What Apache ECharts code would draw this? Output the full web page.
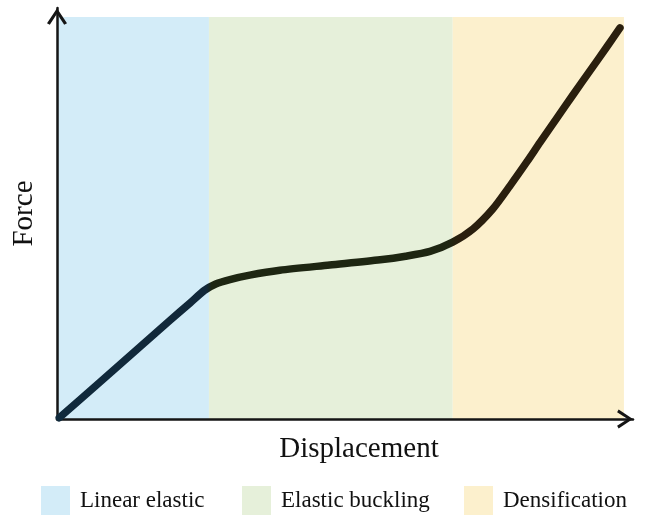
<!DOCTYPE html>
<html>
<head>
<meta charset="utf-8">
<script src="https://cdn.jsdelivr.net/npm/echarts@6/dist/echarts.min.js"></script>
<style>
html,body{margin:0;padding:0;background:#fff;}
#chart{width:648px;height:515px;}
</style>
</head>
<body>
<div id="chart"></div>
<script>
// Conceptual force–displacement curve (unitless, 0–100 scale)
const regionNames = ['Linear elastic', 'Elastic buckling', 'Densification'];
const regionBounds = [0, 26.8, 69.8, 100];
const regionColors = ['#d3ecf8', '#e6f0da', '#fcf0cd'];

const displacement = [0.4, 7.6, 14.6, 19.9, 23.5, 26.0, 28.0, 30.5, 34.0, 39.3, 48.1, 57.0, 61.5, 65.8, 69.8,
  73.4, 76.9, 79.9, 82.9, 85.2, 88.2, 91.0, 94.0, 97.0, 99.3];
const force = [0.3, 9.2, 17.9, 24.5, 28.9, 32.0, 33.6, 34.7, 35.8, 37.0, 38.3, 39.6, 40.5, 41.7, 44.0,
  47.3, 52.3, 58.0, 64.0, 68.8, 74.9, 80.6, 86.6, 92.6, 97.3];

const xTitle = 'Displacement';
const yTitle = 'Force';

const chart = echarts.init(document.getElementById('chart'), null, {renderer: 'canvas'});
const serif = 'Liberation Serif, Times New Roman, serif';
const arrowPath = 'path://M0,15 L10,0 L20,15 L17.2,16.6 L10,5.5 L2.8,16.6 Z';

const regionSeries = regionNames.map((n, i) => ({
  name: n,
  type: 'bar',
  data: [],
  itemStyle: {color: regionColors[i]},
  markArea: {
    silent: true,
    itemStyle: {color: regionColors[i], opacity: 1},
    data: [[{xAxis: regionBounds[i], yAxis: 0}, {xAxis: regionBounds[i + 1], yAxis: 100}]]
  },
  z: 1
}));

const curve = displacement.map((x, i) => [x, force[i]]);

const legendLefts = [41, 242, 464];
const legends = regionNames.map((n, i) => ({
  data: [n],
  left: legendLefts[i],
  top: 486,
  padding: 0,
  icon: 'rect',
  itemWidth: 29,
  itemHeight: 29,
  selectedMode: false,
  textStyle: {fontFamily: serif, fontSize: 23, color: '#111', padding: [0, 0, 0, 5]}
}));

chart.setOption({
  animation: false,
  grid: {left: 57, top: 8, width: 576, height: 411, containLabel: false},
  legend: legends,
  xAxis: {
    type: 'value', min: 0, max: 101.6, z: 3,
    name: xTitle, nameLocation: 'middle', nameGap: 16,
    nameTextStyle: {fontFamily: serif, fontSize: 29, color: '#111', padding: [0, 0, 0, 28]},
    axisLine: {show: true, onZero: false, lineStyle: {color: '#151515', width: 2.5},
      symbol: ['none', arrowPath], symbolSize: [19, 17], symbolOffset: [0, -8]},
    axisTick: {show: false}, axisLabel: {show: false}, splitLine: {show: false}
  },
  yAxis: {
    type: 'value', min: 0, max: 102.24, z: 3,
    name: yTitle, nameLocation: 'middle', nameGap: 18,
    nameTextStyle: {fontFamily: serif, fontSize: 29, color: '#111'},
    axisLine: {show: true, onZero: false, lineStyle: {color: '#151515', width: 2.5},
      symbol: ['none', arrowPath], symbolSize: [20, 18], symbolOffset: [0, -8.5]},
    axisTick: {show: false}, axisLabel: {show: false}, splitLine: {show: false}
  },
  series: regionSeries.concat([{
    name: 'curve',
    type: 'line',
    data: curve,
    smooth: 0.25,
    showSymbol: false,
    z: 5,
    lineStyle: {
      width: 7.5,
      cap: 'round',
      join: 'round',
      color: new echarts.graphic.LinearGradient(0, 0, 1, 0, [
        {offset: 0, color: '#102a3c'},
        {offset: 0.265, color: '#12283a'},
        {offset: 0.275, color: '#1e2612'},
        {offset: 0.69, color: '#1e2612'},
        {offset: 0.71, color: '#2a1f0e'},
        {offset: 1, color: '#2a1f0e'}
      ])
    }
  }])
});
</script>
</body>
</html>
